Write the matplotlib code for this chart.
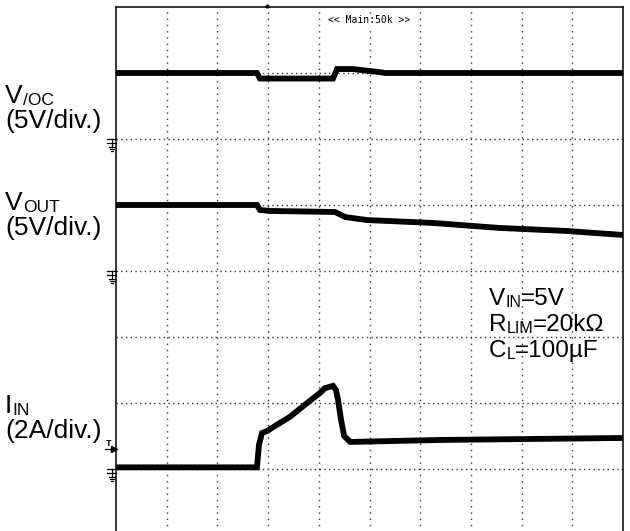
import matplotlib.pyplot as plt
import matplotlib.transforms as mtransforms

# Scope screen: 10 horizontal divisions, 8 vertical divisions
# time in divisions
t_voc = [0, 2.78, 2.84, 4.28, 4.36, 4.67, 4.91, 5.17, 5.31, 10]
v_oc = [5.0, 5.0, 4.58, 4.58, 5.30, 5.30, 5.19, 5.08, 5.0, 5.0]

t_vout = [0, 2.78, 2.84, 3.04, 4.32, 4.52, 4.95, 6.25, 7.57, 8.90, 10]
v_out = [5.0, 5.0, 4.62, 4.55, 4.47, 4.09, 3.86, 3.64, 3.26, 3.03, 2.73]

t_iin = [0, 2.78, 2.82, 2.88, 2.98, 3.10, 3.43, 3.77, 4.02, 4.12, 4.28,
         4.34, 4.38, 4.44, 4.50, 4.62, 6.39, 10]
i_in = [0.05, 0.05, 0.73, 1.09, 1.15, 1.27, 1.58, 2.0, 2.3, 2.45, 2.52,
        2.39, 2.09, 1.48, 1.0, 0.82, 0.88, 0.94]

# channel settings: units per division and ground position (div from bottom)
ch_scale = [5, 5, 2]
ch_ground = [6, 4, 1]
ch_main = ['V', 'V', 'I']
ch_sub = ['/OC', 'OUT', 'IN']
ch_div = ['(5V/div.)', '(5V/div.)', '(2A/div.)']

cond_main = ['V', 'R', 'C']
cond_sub = ['IN', 'LIM', 'L']
cond_val = ['=5V', '=20k\u03a9', '=100\u00b5F']

trig_level = 0.6   # A, on I_IN channel
trig_pos = 2.97    # div
timebase_text = '<< Main:50k >>'

plt.rcParams['font.family'] = ['Liberation Sans', 'DejaVu Sans']

fig = plt.figure(figsize=(6.3, 5.31), dpi=100)
W, H = 630, 531
ax = fig.add_axes([116 / W, (H - 535) / H, 507 / W, 528 / H])
ax.set_xlim(0, 10)
ax.set_ylim(0, 8)
ax.set_xticks([])
ax.set_yticks([])
for side in ['left', 'top', 'right', 'bottom']:
    ax.spines[side].set_linewidth(1.1)

# dotted graticule
for k in range(1, 10):
    ax.axvline(k, color='#333333', lw=1.0, ls=(0, (1, 3.5)), zorder=1)
for k in range(1, 8):
    ax.axhline(k, color='#333333', lw=1.0, ls=(0, (1, 2.4)), zorder=1)

# traces
traces = [(t_voc, v_oc), (t_vout, v_out), (t_iin, i_in)]
for (t, v), sc, g in zip(traces, ch_scale, ch_ground):
    y = [g + val / sc for val in v]
    ax.plot(t, y, color='black', lw=4.2, solid_joinstyle='miter',
            solid_capstyle='butt', zorder=3)

# ground markers on the left edge
px = 1 / 507  # one pixel in axes fraction (x)
py = 8 / 528  # one pixel in data units (y)
tr = mtransforms.blended_transform_factory(ax.transAxes, ax.transData)
for g in ch_ground:
    segs = [((-9, 0), (0, 0)), ((-4.5, 0), (-4.5, 8)), ((-9, 4), (0, 4)),
            ((-7.5, 8), (-1.5, 8)), ((-6.5, 10), (-2.5, 10)),
            ((-5.5, 12), (-3.5, 12))]
    for (x0, y0), (x1, y1) in segs:
        ax.plot([x0 * px, x1 * px], [g - y0 * py, g - y1 * py], color='black',
                lw=0.9, transform=tr, clip_on=False)

# trigger level marker for I_IN
ty = ch_ground[2] + trig_level / ch_scale[2]
ax.plot([-11 * px, -1 * px], [ty, ty], color='black', lw=0.9,
        transform=tr, clip_on=False)
ax.plot([-2 * px], [ty], marker='>', ms=4, color='black', transform=tr,
        clip_on=False)
ax.text(-10 * px, ty + 1 * py, 'T', fontsize=6.5, transform=tr, va='bottom',
        ha='left', fontweight='bold')

# trigger position marker at top
ax.plot([trig_pos], [8 + 1.5 * py], marker='o', ms=2, color='black',
        clip_on=False)

# timebase text
ax.text(5, 8 - 13 * py, timebase_text, fontsize=7, family='DejaVu Sans Mono',
        ha='center', va='center', color='black',
        bbox=dict(facecolor='white', edgecolor='none', pad=0.5))


def sub_label(x, y, main, sub, rest=None, size=18, subsize=12):
    t = fig.text(x, y, main, fontsize=size, va='baseline', ha='left')
    s = ax.annotate(sub, xy=(1, 0), xycoords=t, fontsize=subsize,
                    va='bottom', ha='left', annotation_clip=False)
    if rest:
        ax.annotate(rest, xy=(1, 0), xycoords=s, fontsize=size,
                    va='bottom', ha='left', annotation_clip=False)


# channel labels
label_base = [103, 210, 413]
for m, s, d, yb in zip(ch_main, ch_sub, ch_div, label_base):
    sub_label(5 / W, 1 - yb / H, m, s, size=19, subsize=12.5)
    fig.text(5 / W, 1 - (yb + 25) / H, d, fontsize=19, va='baseline')

# conditions
cond_base = [305, 331, 357]
for m, s, v, yb in zip(cond_main, cond_sub, cond_val, cond_base):
    sub_label(489 / W, 1 - yb / H, m, s, v, size=17.5, subsize=11.5)

fig.savefig('out.png', dpi=100)
